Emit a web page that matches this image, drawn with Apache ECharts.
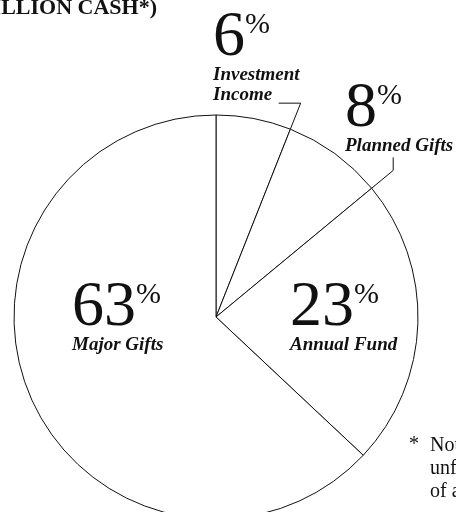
<!DOCTYPE html>
<html>
<head>
<meta charset="utf-8">
<script src="https://cdn.jsdelivr.net/npm/echarts@6/dist/echarts.min.js"></script>
<style>
html,body{margin:0;padding:0;background:#fff;}
#chart{width:456px;height:512px;}
</style>
</head>
<body>
<div id="chart"></div>
<script>
// ---- data ----
const categories = ['Investment\nIncome', 'Planned Gifts', 'Annual Fund', 'Major Gifts'];
const values = [6, 8, 23, 63];
const titleText = 'MILLION CASH*)';
const footnoteLines = ['Not including', 'unfulfilled pledges', 'of any kind'];
// which slices get a leader line at their end border
const leaderItems = [0, 1];

// ---- style / layout (not data) ----
const FONT = '"Liberation Serif", "Times New Roman", serif';
const CENTER = [216, 317];
const RADIUS = 202;
const EXT = 230 / 202;                       // leader extension as fraction of radius
const TAILS = [[-22, 0], [0, -13]];          // leader tail offsets in px
const LABEL_POS = [[213, 6], [345, 77], [290, 276], [72, 276]];

const chart = echarts.init(document.getElementById('chart'), null, {renderer: 'canvas'});

// cumulative end angles (in value units) for leader lines
const cum = [];
values.reduce((s, v, i) => { cum[i] = s + v; return s + v; }, 0);
const leaderData = leaderItems.map(i => [1, cum[i]]);

const labelGraphics = categories.map((c, i) => ({
  type: 'text',
  left: LABEL_POS[i][0],
  top: LABEL_POS[i][1],
  z: 100,
  silent: true,
  style: {
    text: '{num|' + values[i] + '}{pct|%}\n' + c.split('\n').map(s => '{name|' + s + '}').join('\n'),
    fill: '#111',
    align: 'left',
    rich: {
      num: {fontSize: 64, fontFamily: FONT, lineHeight: 55, fill: '#111'},
      pct: {fontSize: 30, fontFamily: FONT, verticalAlign: 'top', fill: '#111'},
      name: {fontSize: 19, fontFamily: FONT, fontStyle: 'italic', fontWeight: 'bold', lineHeight: 20, fill: '#111'}
    }
  }
}));

const option = {
  animation: false,
  backgroundColor: '#fff',
  polar: {center: CENTER, radius: RADIUS},
  angleAxis: {
    type: 'value', min: 0, max: 100, startAngle: 90, clockwise: true,
    axisLine: {show: false}, axisTick: {show: false}, axisLabel: {show: false}, splitLine: {show: false}
  },
  radiusAxis: {
    type: 'value', min: 0, max: 1,
    axisLine: {show: false}, axisTick: {show: false}, axisLabel: {show: false}, splitLine: {show: false}
  },
  series: [
    {
      type: 'pie',
      center: CENTER,
      radius: RADIUS,
      startAngle: 90,
      clockwise: true,
      silent: true,
      label: {show: false},
      labelLine: {show: false},
      itemStyle: {color: '#fff', borderColor: '#111', borderWidth: 1},
      emphasis: {disabled: true},
      data: categories.map((c, i) => ({name: c, value: values[i]}))
    },
    {
      type: 'custom',
      coordinateSystem: 'polar',
      silent: true,
      data: leaderData,
      renderItem: function (params, api) {
        const a = api.value(1);
        const p0 = api.coord([1, a]);
        const p1 = api.coord([EXT, a]);
        const t = TAILS[params.dataIndex];
        return {
          type: 'polyline',
          shape: {points: [p0, p1, [p1[0] + t[0], p1[1] + t[1]]]},
          style: {stroke: '#111', lineWidth: 1, fill: null}
        };
      }
    }
  ],
  graphic: [
    {
      type: 'text', right: 299, top: -3, z: 100, silent: true,
      style: {
        text: titleText, fill: '#111',
        font: 'bold 22px ' + FONT
      }
    },
    {
      type: 'text', left: 409, top: 435, z: 100, silent: true,
      style: {text: '*', fill: '#111', font: '20px ' + FONT}
    },
    {
      type: 'text', left: 430, top: 434, z: 100, silent: true,
      style: {text: footnoteLines.join('\n'), fill: '#111', font: '20px ' + FONT, lineHeight: 23}
    }
  ].concat(labelGraphics)
};
chart.setOption(option);
</script>
</body>
</html>
